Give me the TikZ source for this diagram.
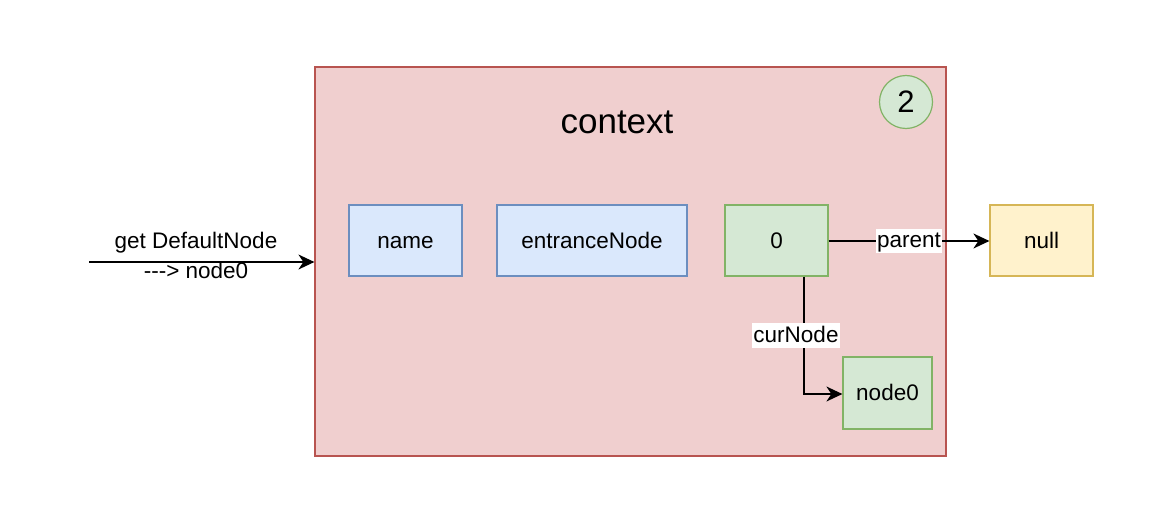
\documentclass[tikz,border=0pt]{standalone}
\usepackage{fontspec}
\setmainfont{Liberation Sans}
\usetikzlibrary{arrows.meta}
\definecolor{ctxfill}{HTML}{F0CFCF}
\definecolor{ctxdraw}{HTML}{B85450}
\definecolor{bluefill}{HTML}{DAE8FC}
\definecolor{bluedraw}{HTML}{6C8EBF}
\definecolor{greenfill}{HTML}{D5E8D4}
\definecolor{greendraw}{HTML}{82B366}
\definecolor{yelfill}{HTML}{FFF2CC}
\definecolor{yeldraw}{HTML}{D6B656}
\tikzset{
  txt/.style={font=\fontsize{22.5}{26}\selectfont},
  box/.style={draw, line width=1.2pt, minimum height=71pt, inner sep=0pt, txt, text height=19pt, text depth=3.5pt},
  bluebox/.style={box, fill=bluefill, draw=bluedraw},
  greenbox/.style={box, fill=greenfill, draw=greendraw},
  yelbox/.style={box, fill=yelfill, draw=yeldraw},
  conn/.style={line width=1.3pt, -{Stealth[length=16pt,width=15pt,inset=5pt]}},
  lbl/.style={fill=white, inner sep=1pt, txt, text height=18pt, text depth=4.5pt},
}
\begin{document}
\begin{tikzpicture}[x=1pt,y=-1pt]
\useasboundingbox (0,0) rectangle (1150,508);
\node[draw=ctxdraw, fill=ctxfill, line width=1.2pt, minimum width=631pt, minimum height=389pt, inner sep=0pt] (ctx) at (630.5,261.5) {};
\node[font=\fontsize{35}{40}\selectfont] (ctxlabel) at (617,122) {context};
\node[circle, draw=greendraw, fill=greenfill, line width=1.2pt, minimum size=53pt, inner sep=0pt, font=\fontsize{31}{36}\selectfont] (two) at (906,102) {2};
\node[bluebox, minimum width=113pt] (name) at (405.5,240.5) {name};
\node[bluebox, minimum width=190pt] (entr) at (592,240.5) {entranceNode};
\node[greenbox, minimum width=103pt] (zero) at (776.5,240.5) {0};
\node[yelbox, minimum width=103pt] (null) at (1041.5,240.5) {null};
\node[greenbox, minimum width=89pt, minimum height=72pt] (node0) at (887.5,393) {node0};
\coordinate (start) at (89,262);
\draw[conn] (start) -- (ctx.west |- start);
\node[txt] (getlbl) at (196,243) {get DefaultNode};
\node[txt] (arrlbl) at (196,270) {-\kern0pt-\kern0pt-> node0};
\draw[conn] (zero.east |- 0,241) -- node[lbl] {parent} (null.west |- 0,241);
\coordinate (bend) at (804,394);
\draw[conn] (zero.south -| bend) -- node[lbl, pos=0.5, xshift=-8pt] {curNode} (bend) -- (node0.west |- bend);
\end{tikzpicture}
\end{document}
